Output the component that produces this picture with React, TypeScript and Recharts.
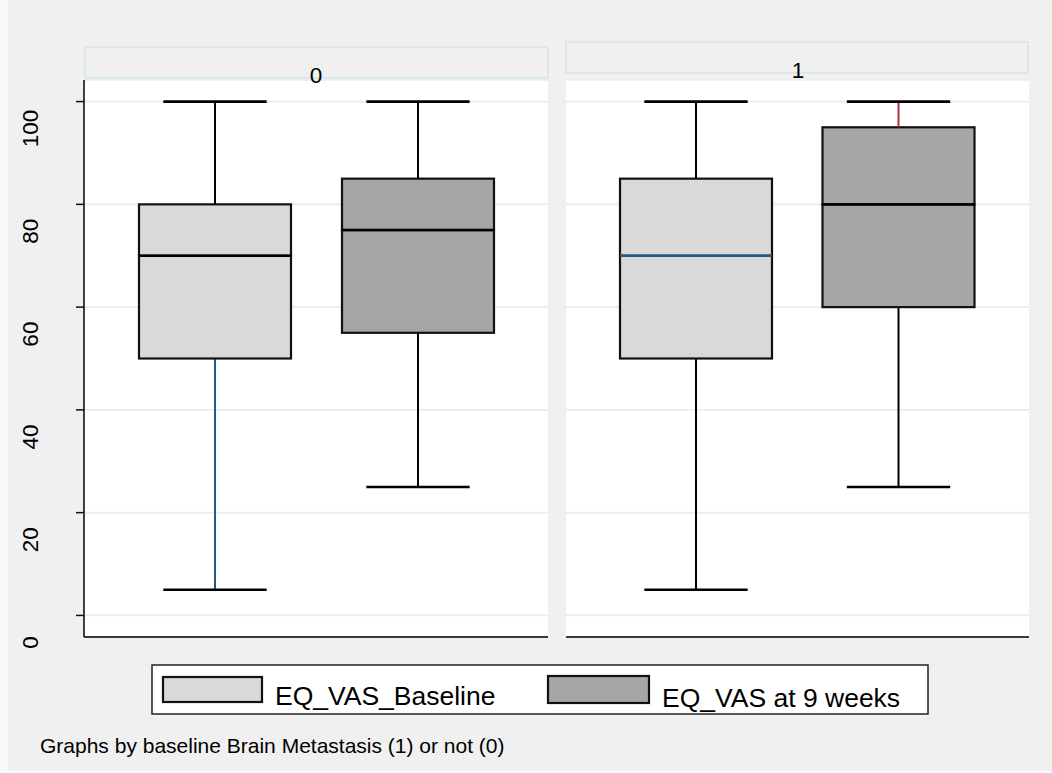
import React from "react";
import { ComposedChart, Bar, XAxis, YAxis, CartesianGrid } from "recharts";

// ---- data ----
const categories = ["EQ_VAS_Baseline", "EQ_VAS at 9 weeks"];
const panelLabels = ["0", "1"];
const yTicks = [0, 20, 40, 60, 80, 100];

// panel 0 (no brain metastasis)
const p0Min = [5, 25];
const p0Q1 = [50, 55];
const p0Median = [70, 75];
const p0Q3 = [80, 85];
const p0Max = [100, 100];

// panel 1 (brain metastasis)
const p1Min = [5, 25];
const p1Q1 = [50, 60];
const p1Median = [70, 80];
const p1Q3 = [85, 95];
const p1Max = [100, 100];

const footnote = "Graphs by baseline Brain Metastasis (1) or not (0)";

// ---- styles ----
const FILLS = ["#d9d9d9", "#a6a6a6"];
const FONT = "'Liberation Sans', Arial, Helvetica, sans-serif";
// whisker / median line colours per panel & category
const lowWhiskerColors = [["#1f5a8a", "#000"], ["#000", "#000"]];
const highWhiskerColors = [["#000", "#000"], ["#000", "#b03040"]];
const medianColors = [["#000", "#000"], ["#1f5a8a", "#000"]];

function buildRows(mins: number[], q1: number[], med: number[], q3: number[], max: number[], panel: number) {
  return categories.map((name, i) => ({
    name,
    idx: i,
    panel,
    base: mins[i],
    lowW: q1[i] - mins[i],
    lowBox: med[i] - q1[i],
    highBox: q3[i] - med[i],
    highW: max[i] - q3[i],
  }));
}

const rows0 = buildRows(p0Min, p0Q1, p0Median, p0Q3, p0Max, 0);
const rows1 = buildRows(p1Min, p1Q1, p1Median, p1Q3, p1Max, 1);

const LowWhisker = (props: any) => {
  const { x, y, width, height, payload } = props;
  const cx = x + width / 2;
  const cap = width * 0.68;
  const col = lowWhiskerColors[payload.panel][payload.idx];
  return (
    <g>
      <line x1={cx} x2={cx} y1={y} y2={y + height} stroke={col} strokeWidth={2} />
      <line x1={cx - cap / 2} x2={cx + cap / 2} y1={y + height} y2={y + height} stroke="#000" strokeWidth={2.6} />
    </g>
  );
};

const HighWhisker = (props: any) => {
  const { x, y, width, height, payload } = props;
  const cx = x + width / 2;
  const cap = width * 0.68;
  const col = highWhiskerColors[payload.panel][payload.idx];
  return (
    <g>
      <line x1={cx} x2={cx} y1={y} y2={y + height} stroke={col} strokeWidth={2} />
      <line x1={cx - cap / 2} x2={cx + cap / 2} y1={y} y2={y} stroke="#000" strokeWidth={2.6} />
    </g>
  );
};

const LowBox = (props: any) => {
  const { x, y, width, height, payload } = props;
  return (
    <rect x={x} y={y} width={width} height={height} fill={FILLS[payload.idx]} stroke="#111" strokeWidth={2.2} />
  );
};

const HighBox = (props: any) => {
  const { x, y, width, height, payload } = props;
  const col = medianColors[payload.panel][payload.idx];
  return (
    <g>
      <rect x={x} y={y} width={width} height={height} fill={FILLS[payload.idx]} stroke="#111" strokeWidth={2.2} />
      <line x1={x} x2={x + width} y1={y + height} y2={y + height} stroke={col} strokeWidth={2.4} />
    </g>
  );
};

const YTick = (props: any) => {
  const { y, payload } = props;
  const cx = 31;
  const cy = y + 27;
  return (
    <text
      x={cx}
      y={cy}
      transform={`rotate(-90 ${cx} ${cy})`}
      textAnchor="middle"
      dominantBaseline="central"
      fontFamily={FONT}
      fontSize={22.5}
      fill="#000"
    >
      {payload.value}
    </text>
  );
};

function Panel({ rows, showY }: { rows: any[]; showY: boolean }) {
  const width = showY ? 548 : 504;
  const margin = showY
    ? { top: 80, right: 0, left: 24, bottom: 21 }
    : { top: 80, right: 23, left: 18, bottom: 21 };
  return (
    <ComposedChart width={width} height={660} data={rows} margin={margin} barSize={152}>
      <CartesianGrid horizontal vertical={false} fill="#ffffff" stroke="#e2eef1" strokeWidth={1.6} />
      <XAxis
        dataKey="name"
        type="category"
        padding={{ left: 29, right: 29 }}
        tick={false}
        tickLine={false}
        height={2}
        axisLine={{ stroke: "#3a3a3a", strokeWidth: 2 }}
      />
      <YAxis
        type="number"
        domain={[-4.2, 104.2]}
        ticks={yTicks}
        allowDataOverflow
        hide={!showY}
        width={60}
        tickSize={8}
        tick={<YTick />}
        tickLine={{ stroke: "#111", strokeWidth: 1.5 }}
        axisLine={{ stroke: "#111", strokeWidth: 1.6 }}
      />
      <Bar dataKey="base" stackId="b" fill="none" isAnimationActive={false} />
      <Bar dataKey="lowW" stackId="b" shape={<LowWhisker />} isAnimationActive={false} />
      <Bar dataKey="lowBox" stackId="b" shape={<LowBox />} isAnimationActive={false} />
      <Bar dataKey="highBox" stackId="b" shape={<HighBox />} isAnimationActive={false} />
      <Bar dataKey="highW" stackId="b" shape={<HighWhisker />} isAnimationActive={false} />
    </ComposedChart>
  );
}

export default function App() {
  return (
    <div style={{ position: "absolute", left: 0, top: 0, width: 1052, height: 773, background: "#f6f9f9", overflow: "hidden" }}>
      <div style={{ position: "absolute", left: 8, top: 0, width: 1044, height: 771, background: "#f0f0f0" }} />
      <div style={{ position: "absolute", left: 0, top: 0 }}>
        <Panel rows={rows0} showY />
      </div>
      <div style={{ position: "absolute", left: 548, top: 0 }}>
        <Panel rows={rows1} showY={false} />
      </div>
      <svg width={1052} height={773} style={{ position: "absolute", left: 0, top: 0, pointerEvents: "none" }}>
        {/* panel headers */}
        <rect x={85} y={47} width={463} height={31} fill="none" stroke="#d3e5ec" strokeWidth={1.5} />
        <text x={316} y={75} textAnchor="middle" dominantBaseline="central" fontFamily={FONT} fontSize={22.5} fill="#000">
          {panelLabels[0]}
        </text>
        <rect x={566} y={42} width={462} height={31} fill="none" stroke="#d3e5ec" strokeWidth={1.5} />
        <text x={798} y={70} textAnchor="middle" dominantBaseline="central" fontFamily={FONT} fontSize={22.5} fill="#000">
          {panelLabels[1]}
        </text>
        {/* legend */}
        <rect x={152} y={665} width={776} height={49} fill="#ffffff" stroke="#222" strokeWidth={1.5} />
        <rect x={163} y={677} width={99} height={25} fill={FILLS[0]} stroke="#111" strokeWidth={2.2} />
        <text x={275} y={705} fontFamily={FONT} fontSize={26.5} fill="#000">
          {categories[0]}
        </text>
        <rect x={548} y={676} width={101} height={27} fill={FILLS[1]} stroke="#111" strokeWidth={2.2} />
        <text x={662} y={707} fontFamily={FONT} fontSize={26.5} fill="#000">
          {categories[1]}
        </text>
        {/* footnote */}
        <text x={40} y={753} fontFamily={FONT} fontSize={21} fill="#000">
          {footnote}
        </text>
      </svg>
    </div>
  );
}
